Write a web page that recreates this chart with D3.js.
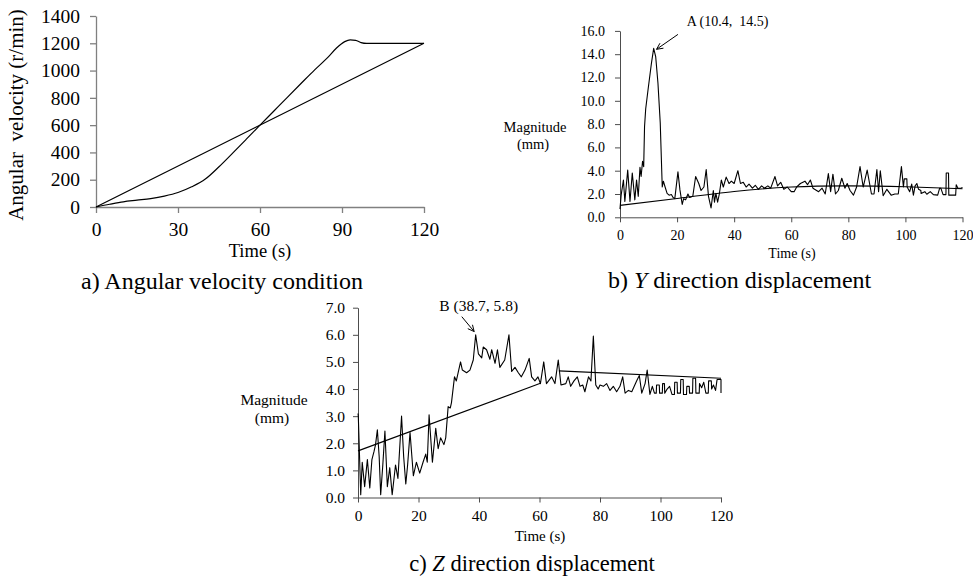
<!DOCTYPE html>
<html>
<head>
<meta charset="utf-8">
<script src="https://cdn.jsdelivr.net/npm/d3@7"></script>
<style>
    body { margin: 0; background: #fff; }
    svg { display: block; font-family: "Liberation Serif", "Times New Roman", serif; }
</style>
</head>
<body>
<svg id="chart" width="973" height="578"></svg>
<script>
// ---------- data ----------
// a) angular velocity condition
const velTicksX = [0, 30, 60, 90, 120];
const velTicksY = [0, 200, 400, 600, 800, 1000, 1200, 1400];
const velLinear = [[0, 0], [120, 1200]];
const velProfile = [
    [0, 0], [5, 20], [10, 38], [15, 50], [20, 62], [25, 80], [30, 106], [35, 148], [40, 205],
    [45, 295], [50, 395], [55, 497], [60, 600], [65, 702], [70, 804], [75, 905], [80, 1005],
    [85, 1100], [88, 1165], [91, 1212], [93, 1225], [95, 1222], [97, 1205], [99, 1199],
    [101, 1200], [120, 1200]
];

// b) Y direction displacement
const yTicksX = [0, 20, 40, 60, 80, 100, 120];
const yTicksY = [0, 2, 4, 6, 8, 10, 12, 14, 16];
const yDisp = [
    [0, 0.7], [0.4, 1.9], [1.2, 3.2], [1.7, 1.35], [2.7, 4.05], [3.5, 1.35], [4.3, 3.8], [5.2, 1.5],
    [5.8, 3.2], [6.4, 1.8], [7.0, 4.3], [7.4, 3.5], [7.9, 4.8], [8.3, 4.35], [8.6, 7.8], [9.0, 9.3],
    [9.9, 11.1], [11.0, 13.2], [11.8, 14.5], [12.5, 13.8], [13.3, 11.5], [14.1, 8.1], [14.8, 2.6],
    [15.2, 3.1], [15.8, 2.6], [16.5, 2.05], [17.2, 1.9], [18.0, 1.95], [18.6, 1.7], [19.2, 1.6],
    [20.3, 3.9], [21.0, 2.35], [21.8, 1.1], [22.3, 1.6], [23.0, 1.5], [23.8, 2.0], [24.4, 1.7],
    [25.5, 1.8], [26.5, 3.5], [27.6, 2.9], [28.4, 2.3], [29.4, 2.6], [30.2, 4.1], [31.0, 1.8],
    [31.9, 0.8], [32.7, 2.3], [33.1, 1.3], [33.6, 2.05], [34.2, 1.3], [34.8, 2.0], [35.5, 3.2],
    [36.2, 2.6], [37.2, 3.45], [38.2, 2.9], [39.0, 3.1], [40.0, 2.9], [41.3, 4.0], [42.2, 2.9],
    [43.2, 3.0], [44.2, 2.6], [45.2, 2.85], [46.4, 2.5], [47.4, 2.75], [48.5, 2.4], [49.6, 2.7],
    [50.6, 2.5], [51.8, 2.7], [52.8, 2.5], [54.3, 3.5], [55.2, 2.7], [56.3, 3.0], [57.4, 2.4],
    [58.6, 2.6], [60.0, 2.2], [61.0, 2.2], [61.9, 2.6], [63.2, 2.9], [64.8, 3.1], [65.7, 2.8],
    [66.7, 3.2], [67.6, 2.5], [69.6, 2.2], [70.8, 2.5], [71.9, 2.0], [73.0, 3.75], [73.8, 2.2],
    [74.6, 3.7], [75.5, 2.0], [76.5, 2.3], [77.7, 3.35], [78.8, 2.5], [79.6, 2.9], [80.6, 2.3],
    [81.8, 1.9], [82.9, 2.6], [84.1, 4.35], [85.2, 2.6], [86.6, 4.05], [88.1, 2.0], [89.0, 2.0],
    [90.0, 4.1], [90.6, 2.2], [91.2, 4.0], [92.2, 1.85], [93.5, 2.4], [95.0, 1.9], [96.3, 2.0],
    [97.5, 2.0], [98.6, 4.35], [99.3, 2.6], [99.6, 3.3], [100.5, 3.3], [100.6, 2.6], [101.5, 2.2],
    [102.2, 2.85], [102.8, 1.9], [103.4, 2.7], [104.0, 2.9], [104.6, 2.4], [105.4, 2.3], [105.5, 2.05],
    [106.8, 2.2], [107.5, 1.98], [108.7, 2.2], [109.8, 1.95], [111.3, 1.9], [112.0, 2.5], [112.4, 2.5],
    [113.2, 1.95], [114.2, 1.95], [114.3, 3.8], [115.1, 3.8], [115.2, 1.9], [117.6, 1.9], [117.8, 2.8],
    [118.4, 2.5], [119.4, 2.5], [120, 2.55]
];
const yTrend = [[0, 1.02], [20, 1.62], [40, 2.22], [60, 2.6], [80, 2.7], [100, 2.62], [120, 2.45]];
const annA = {label: 'A (10.4,  14.5)', text: [23.4, 16.4], tail: [20.3, 15.7], tip: [12.8, 14.42]};

// c) Z direction displacement
const zTicksX = [0, 20, 40, 60, 80, 100, 120];
const zTicksY = [0, 1, 2, 3, 4, 5, 6, 7];
const zDisp = [
    [0, 3.1], [0.1, 3.0], [0.9, 0.1], [1.4, 1.3], [2.2, 0.4], [3.1, 1.4], [3.9, 0.35], [4.6, 1.4],
    [5.3, 1.7], [5.8, 1.95], [6.4, 2.5], [7.0, 1.5], [7.5, 0.1], [8.2, 1.2], [8.9, 2.45], [9.7, 0.4],
    [10.5, 1.1], [11.3, 0.1], [12.4, 1.2], [13.2, 0.7], [14.4, 3.0], [15.1, 1.5], [15.8, 0.5],
    [16.4, 1.2], [17.2, 2.4], [18.3, 0.8], [19.3, 1.3], [20.4, 0.9], [21.5, 1.3], [22.4, 1.6],
    [22.9, 1.3], [23.5, 3.05], [24.6, 1.3], [25.7, 2.55], [26.5, 1.8], [27.3, 2.2], [28.4, 1.95],
    [29.0, 2.2], [29.8, 3.35], [30.5, 3.3], [30.9, 3.5], [31.9, 4.45], [32.5, 4.3], [33.9, 5.0],
    [34.5, 4.7], [35.9, 4.6], [37.0, 4.7], [38.1, 5.07], [38.9, 6.0], [39.8, 5.3], [40.9, 5.15],
    [41.4, 5.55], [42.5, 5.45], [43.6, 5.1], [44.2, 5.45], [45.3, 4.95], [46.1, 5.45], [46.9, 4.8],
    [48.5, 5.07], [49.9, 6.0], [50.8, 4.65], [51.9, 4.8], [53.0, 4.6], [54.0, 4.45], [55.2, 4.7],
    [56.6, 5.13], [57.4, 4.45], [58.5, 4.3], [59.5, 4.45], [60.3, 4.2], [61.4, 5.0], [62.3, 4.2],
    [64.0, 4.45], [65.1, 4.2], [66.2, 5.07], [67.1, 4.15], [68.7, 4.2], [69.5, 4.45], [70.3, 4.1],
    [71.4, 4.3], [72.5, 4.45], [73.4, 4.1], [74.3, 4.15], [75.0, 3.9], [76.2, 4.45], [77.0, 4.3],
    [77.8, 5.95], [78.6, 4.15], [79.4, 4.0], [80.0, 4.15], [81.1, 4.1], [82.2, 4.2], [83.3, 3.95],
    [84.4, 4.1], [85.5, 3.9], [86.6, 4.1], [87.5, 4.45], [88.3, 3.85], [89.4, 3.95], [90.5, 3.9],
    [92.1, 4.3], [93.0, 4.5], [93.8, 3.85], [94.9, 4.2], [95.6, 4.7], [96.5, 3.8], [97.3, 4.1],
    [98.0, 3.85], [98.6, 3.85], [98.7, 4.15], [99.6, 4.15], [99.7, 3.85], [100.6, 3.85], [100.7, 4.2],
    [101.3, 4.2], [101.4, 3.85], [102.2, 4.0], [103.0, 4.1], [103.8, 3.8], [104.6, 3.8], [104.7, 4.25],
    [105.5, 4.25], [105.6, 3.85], [106.6, 3.85], [106.7, 4.35], [107.5, 4.35], [107.6, 3.8],
    [108.6, 3.8], [108.7, 4.1], [109.5, 4.1], [109.6, 3.85], [110.6, 3.85], [110.7, 4.4], [111.6, 4.4],
    [111.7, 3.85], [112.8, 3.85], [112.9, 4.2], [113.6, 4.05], [114.3, 4.25], [115.0, 3.85],
    [115.8, 3.85], [115.9, 4.3], [116.8, 4.3], [116.9, 4.0], [117.5, 4.15], [118.2, 3.95],
    [118.7, 4.35], [120, 4.35], [120, 3.85]
];
const zTrend1 = [[0, 1.72], [60.3, 4.21]];
const zTrend2 = [[66.4, 4.67], [120, 4.4]];
const annB = {label: 'B (38.7, 5.8)', text: [26.9, 6.86], tail: [34.3, 6.67], tip: [38.4, 6.12]};

// ---------- drawing ----------
const svg = d3.select('#chart');

function drawAxes(g, x, y, o) {
    const ax = g.append('g')
        .attr('transform', `translate(0,${y.range()[0]})`)
        .call(d3.axisBottom(x).tickValues(o.ticksX).tickFormat(o.fmtX)
            .tickSize(o.tick).tickPadding(o.padX).tickSizeOuter(0));
    const ay = g.append('g')
        .attr('transform', `translate(${x.range()[0]},0)`)
        .call(d3.axisLeft(y).tickValues(o.ticksY).tickFormat(o.fmtY)
            .tickSize(o.tick).tickPadding(o.padY).tickSizeOuter(0));
    [ax, ay].forEach(a => {
        a.attr('color', o.axisColor)
            .attr('font-family', null)
            .attr('font-size', null);
        a.selectAll('path, line').attr('stroke-width', o.axisWidth);
        a.selectAll('text').attr('fill', '#000').style('font-size', o.fontSize + 'px');
    });
}

function drawArrow(g, x, y, a) {
    const x1 = x(a.tail[0]), y1 = y(a.tail[1]);
    const x2 = x(a.tip[0]), y2 = y(a.tip[1]);
    g.append('line')
        .attr('x1', x1).attr('y1', y1).attr('x2', x2).attr('y2', y2)
        .attr('stroke', '#000').attr('stroke-width', 1);
    const ang = Math.atan2(y2 - y1, x2 - x1);
    const len = 7, spread = 0.45;
    [-spread, spread].forEach(s => {
        g.append('line')
            .attr('x1', x2).attr('y1', y2)
            .attr('x2', x2 - len * Math.cos(ang + s))
            .attr('y2', y2 - len * Math.sin(ang + s))
            .attr('stroke', '#000').attr('stroke-width', 1);
    });
}

// --- panel a ---
{
    const g = svg.append('g');
    const x = d3.scaleLinear().domain([0, 120]).range([96, 424]);
    const y = d3.scaleLinear().domain([0, 1400]).range([207, 16]);
    drawAxes(g, x, y, {
        ticksX: velTicksX, ticksY: velTicksY, fmtX: d3.format('d'), fmtY: d3.format('d'),
        tick: 6, padX: 9, padY: 10, axisColor: '#808080', axisWidth: 1.3, fontSize: 19.5
    });
    const l = d3.line().x(d => x(d[0])).y(d => y(d[1]));
    g.append('path').datum(velLinear).attr('d', l)
        .attr('fill', 'none').attr('stroke', '#000').attr('stroke-width', 1.2);
    g.append('path').datum(velProfile).attr('d', l.curve(d3.curveMonotoneX))
        .attr('fill', 'none').attr('stroke', '#000').attr('stroke-width', 1.2);

    g.append('text')
        .attr('transform', 'translate(23,115) rotate(-90)')
        .attr('text-anchor', 'middle')
        .style('font-size', '21px')
        .style('white-space', 'pre')
        .text('Angular  velocity (r/min)');
    g.append('text').attr('x', 260).attr('y', 257).attr('text-anchor', 'middle')
        .style('font-size', '18.5px').text('Time (s)');
    g.append('text').attr('x', 222).attr('y', 289).attr('text-anchor', 'middle')
        .style('font-size', '24px').text('a) Angular velocity condition');
}

// --- panel b ---
{
    const g = svg.append('g');
    const x = d3.scaleLinear().domain([0, 120]).range([620, 962.5]);
    const y = d3.scaleLinear().domain([0, 16]).range([217.3, 30.9]);
    drawAxes(g, x, y, {
        ticksX: yTicksX, ticksY: yTicksY, fmtX: d3.format('d'), fmtY: d3.format('.1f'),
        tick: 5, padX: 8, padY: 10, axisColor: '#4d4d4d', axisWidth: 1, fontSize: 14
    });
    const l = d3.line().x(d => x(d[0])).y(d => y(d[1]));
    g.append('path').datum(yTrend).attr('d', l.curve(d3.curveNatural))
        .attr('fill', 'none').attr('stroke', '#000').attr('stroke-width', 1.1);
    g.append('path').datum(yDisp).attr('d', d3.line().x(d => x(d[0])).y(d => y(d[1])))
        .attr('fill', 'none').attr('stroke', '#000').attr('stroke-width', 1.1)
        .attr('stroke-linejoin', 'round');

    g.append('text').attr('x', x(annA.text[0])).attr('y', y(annA.text[1]))
        .style('font-size', '14px').style('white-space', 'pre').text(annA.label);
    drawArrow(g, x, y, annA);

    g.append('text').attr('x', 535).attr('y', 132).attr('text-anchor', 'middle')
        .style('font-size', '14.5px').text('Magnitude');
    g.append('text').attr('x', 533).attr('y', 149).attr('text-anchor', 'middle')
        .style('font-size', '14.5px').text('(mm)');
    g.append('text').attr('x', 792).attr('y', 258).attr('text-anchor', 'middle')
        .style('font-size', '14px').text('Time (s)');
    const cap = g.append('text').attr('x', 608).attr('y', 288).style('font-size', '24px');
    cap.append('tspan').text('b) ');
    cap.append('tspan').style('font-style', 'italic').text('Y');
    cap.append('tspan').text(' direction displacement');
}

// --- panel c ---
{
    const g = svg.append('g');
    const x = d3.scaleLinear().domain([0, 120]).range([358, 721]);
    const y = d3.scaleLinear().domain([0, 7]).range([497.5, 307.7]);
    drawAxes(g, x, y, {
        ticksX: zTicksX, ticksY: zTicksY, fmtX: d3.format('d'), fmtY: d3.format('.1f'),
        tick: 5, padX: 7, padY: 8, axisColor: '#4d4d4d', axisWidth: 1, fontSize: 15.5
    });
    const l = d3.line().x(d => x(d[0])).y(d => y(d[1]));
    [zTrend1, zTrend2].forEach(seg => {
        g.append('path').datum(seg).attr('d', l)
            .attr('fill', 'none').attr('stroke', '#000').attr('stroke-width', 1.1);
    });
    g.append('path').datum(zDisp).attr('d', l)
        .attr('fill', 'none').attr('stroke', '#000').attr('stroke-width', 1.1)
        .attr('stroke-linejoin', 'round');

    g.append('text').attr('x', x(annB.text[0])).attr('y', y(annB.text[1]))
        .style('font-size', '15.5px').text(annB.label);
    drawArrow(g, x, y, annB);

    g.append('text').attr('x', 274).attr('y', 405).attr('text-anchor', 'middle')
        .style('font-size', '15.5px').text('Magnitude');
    g.append('text').attr('x', 272).attr('y', 423).attr('text-anchor', 'middle')
        .style('font-size', '15.5px').text('(mm)');
    g.append('text').attr('x', 540).attr('y', 541).attr('text-anchor', 'middle')
        .style('font-size', '15px').text('Time (s)');
    const cap = g.append('text').attr('x', 532).attr('y', 571)
        .attr('text-anchor', 'middle').style('font-size', '22.5px');
    cap.append('tspan').text('c) ');
    cap.append('tspan').style('font-style', 'italic').text('Z');
    cap.append('tspan').text(' direction displacement');
}
</script>
</body>
</html>
